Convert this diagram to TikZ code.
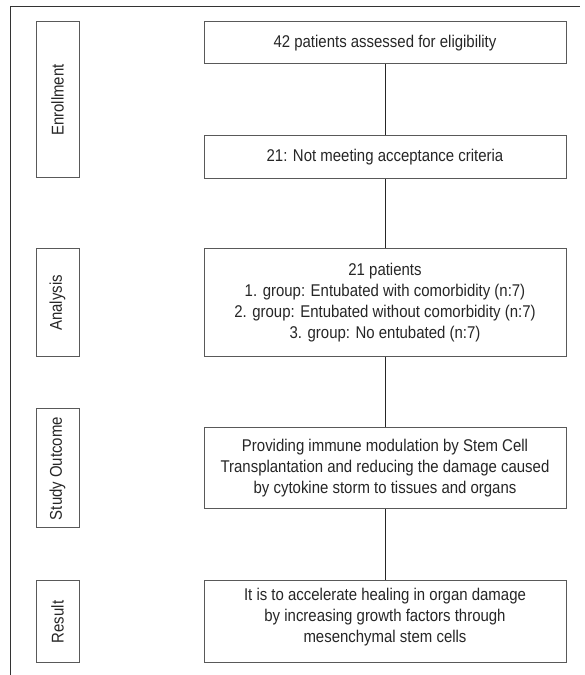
\documentclass[tikz,border=0pt]{standalone}
\usepackage{fontspec}
\setmainfont{Liberation Sans}[FakeStretch=0.88]
\begin{document}
\begin{tikzpicture}[x=1pt,y=1pt,
        stagebox/.style={draw=black!65, line width=1pt, rotate=90, minimum height=43pt,
                inner sep=0pt, font=\fontsize{17}{21}\selectfont, text=black!85},
        flowbox/.style={draw=black!65, line width=1pt, minimum width=362pt, inner sep=0pt,
                align=center, font=\fontsize{17}{21}\selectfont, text=black!85},
        link/.style={draw=black!85, line width=0.8pt}]
            \def\xl{57.5}
            \def\xr{385}

            \useasboundingbox (0,0) rectangle (585,675);
            % frame
            \draw[black!80, line width=1pt] (10,0) -- (10,668) -- (580,668);

            % left stages
            \node[stagebox, minimum width=156pt] (enrol) at (\xl,575) {Enrollment};
            \node[stagebox, minimum width=108pt] (analysis) at (\xl,372) {Analysis};
            \node[stagebox, minimum width=119pt] (outcome) at (\xl,206.5) {Study Outcome};
            \node[stagebox, minimum width=82pt] (result) at (\xl,53) {Result};

            % flow
            \node[flowbox, minimum height=42pt] (b1) at (\xr,632) {42 patients assessed for eligibility};
            \node[flowbox, minimum height=43pt] (b2) at (\xr,517.5) {21: Not meeting acceptance criteria};
            \node[flowbox, minimum height=108pt] (b3) at (\xr,372) {21 patients\\
                    1. group: Entubated with comorbidity (n:7)\\
                    2. group: Entubated without comorbidity (n:7)\\
                    3. group: No entubated (n:7)};
            \node[flowbox, minimum height=81pt] (b4) at (\xr,206.5) {Providing immune modulation by Stem Cell\\
                    Transplantation and reducing the damage caused\\
                    by cytokine storm to tissues and organs};
            \node[flowbox, minimum height=82pt] (b5) at (\xr,53) {};
            \node[align=center, font=\fontsize{17}{21}\selectfont, text=black!85] (b5text) at (\xr,58)
                {It is to accelerate healing in organ damage\\
                    by increasing growth factors through\\
                    mesenchymal stem cells};

            \foreach \a/\b in {b1/b2, b2/b3, b3/b4, b4/b5}{
                    \draw[link] (\a) -- (\b);
                }
        \end{tikzpicture}
\end{document}
